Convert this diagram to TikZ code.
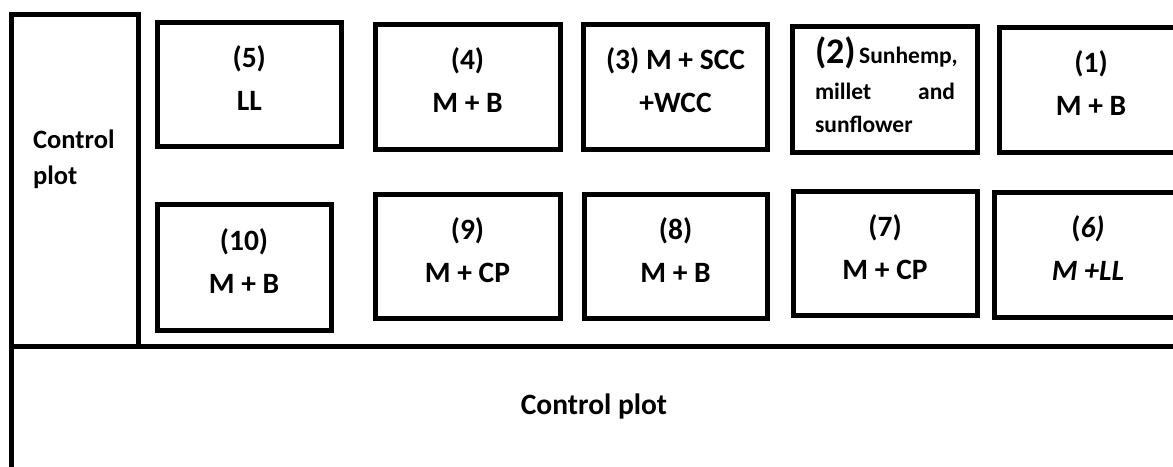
\documentclass[tikz,border=0pt]{standalone}
\usepackage{fontspec}
\setmainfont{Carlito}
\begin{document}
\begin{tikzpicture}[x=1pt,y=-1pt,
  plotbox/.style={draw, line width=5pt, inner sep=0pt, align=center,
    font=\fontsize{29.5}{43}\selectfont\bfseries,
    execute at begin node=\strut, execute at end node=\strut},
  txt/.style={inner sep=0pt, font=\fontsize{29.5}{36}\selectfont\bfseries},
  edge/.style={line width=5pt}]
\useasboundingbox (0,0) rectangle (1173,466);
\clip (0,0) rectangle (1173,466);
\fill[white] (0,0) rectangle (1173,466);
% left control plot
\node[draw, line width=5pt, inner sep=0pt, outer sep=0pt, minimum width=127pt, minimum height=332pt] (ctrl) at (74.5,180) {};
\node[txt, font=\fontsize{26.5}{36}\selectfont\bfseries, anchor=west, align=left] (ctrltxt) at (33,159) {Control\\plot};
\coordinate (bl) at (11,480);
\coordinate (br) at (1190,346);
\draw[edge] (ctrl.south west) -- (bl);
\draw[edge] (ctrl.south west) -- (br);
\node[txt] (ctrlbot) at (594,406) {Control plot};
% top row
\node[plotbox, minimum width=183.5pt, minimum height=124pt] (b5) at (249.25,84.5) {(5)\\LL};
\node[plotbox, minimum width=185pt, minimum height=125pt] (b4) at (467.5,86.5) {(4)\\M + B};
\node[plotbox, minimum width=184pt, minimum height=125pt] (b3) at (675.5,87) {(3) M + SCC\\+WCC};
\node[plotbox, minimum width=185pt, minimum height=126pt, font=\fontsize{23.5}{33}\selectfont\bfseries,
  execute at begin node={}, execute at end node={}] (b2) at (885,89.5)
  {\makebox[140pt][s]{{\fontsize{36}{36}\selectfont(2)} Sunhemp,}\\[3pt]
   \makebox[140pt][s]{millet and}\\
   \makebox[140pt][l]{sunflower}};
\node[plotbox, minimum width=184pt, minimum height=125pt] (b1) at (1091,89.5) {(1)\\M + B};
% bottom row
\node[plotbox, minimum width=174pt, minimum height=126pt] (b10) at (244,267) {(10)\\M + B};
\node[plotbox, minimum width=185pt, minimum height=124.5pt] (b9) at (467.5,256.25) {(9)\\M + CP};
\node[plotbox, minimum width=183pt, minimum height=124pt] (b8) at (675.5,256) {(8)\\M + B};
\node[plotbox, minimum width=184pt, minimum height=124pt] (b7) at (885,253) {(7)\\M + CP};
\node[plotbox, minimum width=188pt, minimum height=125pt] (b6) at (1088,254.5) {(\textit{6)}\\\textit{M +LL}};
\end{tikzpicture}
\end{document}
